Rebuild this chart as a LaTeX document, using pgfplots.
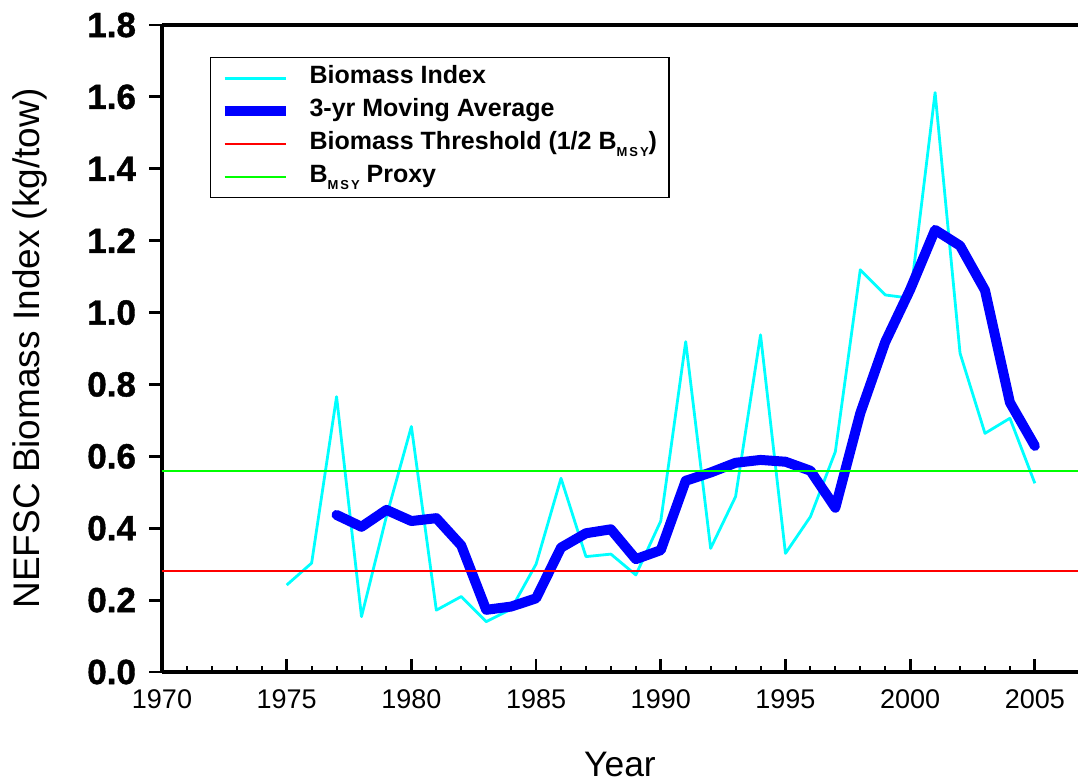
\documentclass[border=0pt]{standalone}
\usepackage{fontspec}
\setmainfont{Liberation Sans}
\newfontfamily\heavyfont[FakeBold=1.2]{Liberation Sans Bold}
\usepackage{pgfplots}
\pgfplotsset{compat=1.18}

\definecolor{indexcyan}{RGB}{0,255,255}
\definecolor{avgblue}{RGB}{0,0,255}
\definecolor{threshred}{RGB}{255,0,0}
\definecolor{proxygreen}{RGB}{0,255,0}

% small spaced subscript used in B_MSY
\newcommand{\msy}{\raisebox{-0.55ex}{\fontsize{6.5}{6.5}\selectfont M\kern0.15em S\kern0.15em Y}}

\begin{document}
\begin{tikzpicture}
\useasboundingbox (-81pt,-55.5pt) rectangle (458pt,336pt);
\begin{axis}[
  scale only axis, width=458pt, height=323.5pt,
  at={(0,0)}, anchor=south west,
  xmin=1970, xmax=2006.73, ymin=0, ymax=1.8,
  axis x line*=box, axis y line*=left,
  axis line style={line width=2pt, black},
  xtick={1970,1975,1980,1985,1990,1995,2000,2005},
  minor x tick num=4,
  ytick={0,0.2,0.4,0.6,0.8,1.0,1.2,1.4,1.6,1.8},
  xtick pos=left, ytick pos=left,
  xtick align=inside, ytick align=outside,
  major tick length=6.5pt, minor tick length=3pt,
  tick style={black, line width=1.4pt},
  minor tick style={line width=1pt},
  /pgf/number format/assume math mode=true,
  yticklabel style={font=\fontsize{17.5}{17.5}\selectfont\heavyfont,
    xshift=-3pt,
    /pgf/number format/.cd, fixed, fixed zerofill, precision=1},
  xticklabel style={font=\fontsize{13.5}{13.5}\selectfont,
    /pgf/number format/1000 sep={}, anchor=north, yshift=-5.5pt},
  xlabel={Year},
  xlabel style={at={(axis description cs:0.5,-0.1437)}, anchor=center,
    font=\fontsize{17.7}{17.7}\selectfont},
  ylabel={NEFSC Biomass Index (kg/tow)},
  ylabel style={at={(axis description cs:-0.1441,0.5)}, anchor=center,
    font=\fontsize{18.5}{18.5}\selectfont},
  legend cell align=left,
  legend image code/.code={\draw[#1, line cap=butt] (0pt,0pt) -- (30.5pt,0pt);},
  legend style={at={(axis description cs:0.0524,0.9505)}, anchor=north west,
    draw=black, line width=0.6pt, fill=white,
    font=\fontsize{12.5}{15}\selectfont\bfseries,
    inner xsep=4.5pt, inner ysep=2pt, row sep=0pt,
    nodes={inner sep=1.5pt, text height=9.5pt, text depth=4pt},
    /tikz/every odd column/.append style={column sep=8pt}},
]
% survey biomass index by year
\addplot[indexcyan, line width=1.4pt, line join=round] coordinates {
  (1975,0.242) (1976,0.303) (1977,0.766) (1978,0.154) (1979,0.433)
  (1980,0.683) (1981,0.172) (1982,0.210) (1983,0.140) (1984,0.175)
  (1985,0.300) (1986,0.539) (1987,0.321) (1988,0.328) (1989,0.270)
  (1990,0.420) (1991,0.919) (1992,0.344) (1993,0.488) (1994,0.938)
  (1995,0.330) (1996,0.432) (1997,0.613) (1998,1.119) (1999,1.049)
  (2000,1.040) (2001,1.612) (2002,0.887) (2003,0.664) (2004,0.706)
  (2005,0.525)};
\addlegendentry{Biomass Index}
% trailing 3-year moving average
\addplot[avgblue, line width=5pt, line cap=round, line join=round] coordinates {
  (1977,0.437) (1978,0.404) (1979,0.451) (1980,0.420) (1981,0.428)
  (1982,0.352) (1983,0.173) (1984,0.182) (1985,0.205) (1986,0.346)
  (1987,0.386) (1988,0.397) (1989,0.314) (1990,0.339) (1991,0.532)
  (1992,0.555) (1993,0.582) (1994,0.590) (1995,0.585) (1996,0.560)
  (1997,0.457) (1998,0.720) (1999,0.918) (2000,1.064) (2001,1.230)
  (2002,1.186) (2003,1.062) (2004,0.750) (2005,0.629)};
\addlegendentry{3-yr Moving Average}
\addplot[threshred, line width=1pt] coordinates {(1970,0.28) (2006.73,0.28)};
\addlegendentry{Biomass Threshold (1/2 B\msy)}
\addplot[proxygreen, line width=1pt] coordinates {(1970,0.56) (2006.73,0.56)};
\addlegendentry{B\msy\ Proxy}
\end{axis}
\end{tikzpicture}
\end{document}
